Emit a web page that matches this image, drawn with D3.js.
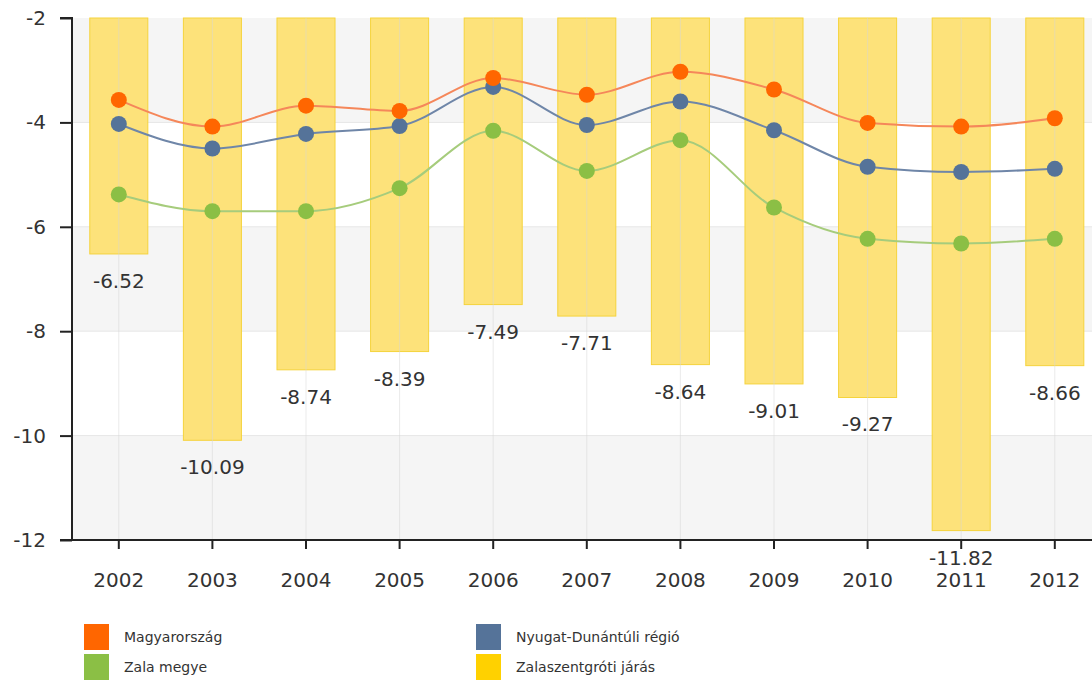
<!DOCTYPE html>
<html>
<head>
<meta charset="utf-8">
<script src="https://cdn.jsdelivr.net/npm/d3@7"></script>
<style>
  body { margin: 0; background: #fff; }
  svg { display: block; font-family: Verdana, "DejaVu Sans", sans-serif; }
</style>
</head>
<body>
<svg id="chart" width="1092" height="691"></svg>
<script>
const years = ["2002", "2003", "2004", "2005", "2006", "2007", "2008", "2009", "2010", "2011", "2012"];
const magyarorszag = [-3.57, -4.08, -3.68, -3.78, -3.15, -3.47, -3.03, -3.37, -4.01, -4.08, -3.92];
const nyugatDunantul = [-4.03, -4.5, -4.22, -4.07, -3.32, -4.05, -3.6, -4.15, -4.85, -4.95, -4.89];
const zalaMegye = [-5.38, -5.7, -5.7, -5.26, -4.16, -4.93, -4.34, -5.63, -6.23, -6.32, -6.23];
const zalaszentgroti = [-6.52, -10.09, -8.74, -8.39, -7.49, -7.71, -8.64, -9.01, -9.27, -11.82, -8.66];
const yTicks = [-2, -4, -6, -8, -10, -12];

const lineSeries = [
  { name: "Magyarország", values: magyarorszag, color: "#ff6600", line: "#f5875a" },
  { name: "Nyugat-Dunántúli régió", values: nyugatDunantul, color: "#557399", line: "#6f86a8" },
  { name: "Zala megye", values: zalaMegye, color: "#8bbf45", line: "#a6cc7c" }
];
const barColor = "#ffd100";

const svg = d3.select("#chart");
const plotLeft = 72, plotTop = 18, plotBottom = 540;

const x = d3.scaleBand().domain(years).range([plotLeft, plotLeft + 11 * 93.6]).paddingInner(0.38).paddingOuter(0.19);
const y = d3.scaleLinear().domain([-2, -12]).range([plotTop, plotBottom]);
const cx = d => x(d) + x.bandwidth() / 2;

// alternating background bands
const bands = d3.range(0, yTicks.length - 1).filter(i => i % 2 === 0);
svg.append("g")
  .selectAll("rect")
  .data(bands)
  .join("rect")
  .attr("x", plotLeft)
  .attr("width", 1092 - plotLeft)
  .attr("y", i => y(yTicks[i]))
  .attr("height", i => y(yTicks[i + 1]) - y(yTicks[i]))
  .attr("fill", "#f5f5f5");

// horizontal grid
svg.append("g")
  .selectAll("line")
  .data(yTicks.slice(1, -1))
  .join("line")
  .attr("x1", plotLeft).attr("x2", 1092)
  .attr("y1", d => y(d)).attr("y2", d => y(d))
  .attr("stroke", "#e6e6e6");

// bars
svg.append("g")
  .selectAll("rect")
  .data(zalaszentgroti)
  .join("rect")
  .attr("x", (d, i) => x(years[i]))
  .attr("width", x.bandwidth())
  .attr("y", y(-2))
  .attr("height", d => y(d) - y(-2))
  .attr("fill", "#fde27a")
  .attr("stroke", "#f5d33c")
  .attr("stroke-width", 1);

// vertical grid
svg.append("g")
  .selectAll("line")
  .data(years)
  .join("line")
  .attr("x1", cx).attr("x2", cx)
  .attr("y1", plotTop).attr("y2", plotBottom)
  .attr("stroke", "#d8d8d8")
  .attr("stroke-opacity", 0.5);

// bar labels
svg.append("g")
  .selectAll("text")
  .data(zalaszentgroti)
  .join("text")
  .attr("x", (d, i) => cx(years[i]))
  .attr("y", d => y(d) + 34)
  .attr("text-anchor", "middle")
  .attr("font-size", 20)
  .attr("fill", "#333")
  .text(d => d.toFixed(2));

// lines + markers
const line = d3.line()
  .x((d, i) => cx(years[i]))
  .y(d => y(d))
  .curve(d3.curveMonotoneX);

lineSeries.slice().reverse().forEach(s => {
  svg.append("path")
    .datum(s.values)
    .attr("d", line)
    .attr("fill", "none")
    .attr("stroke", s.line)
    .attr("stroke-width", 2);
  svg.append("g")
    .selectAll("circle")
    .data(s.values)
    .join("circle")
    .attr("cx", (d, i) => cx(years[i]))
    .attr("cy", d => y(d))
    .attr("r", 8)
    .attr("fill", s.color);
});

// axes
const yAxis = svg.append("g")
  .attr("transform", `translate(${plotLeft},0)`)
  .call(d3.axisLeft(y).tickValues(yTicks).tickFormat(d => String(d)).tickSize(12).tickPadding(14));
yAxis.select(".domain").attr("stroke", "#222").attr("stroke-width", 2).attr("d", `M-12,${plotTop}H0V${plotBottom}H-12`);
yAxis.selectAll(".tick line").attr("stroke", "#222").attr("stroke-width", 2);
yAxis.selectAll("text").attr("font-size", 20).attr("fill", "#333").attr("font-family", "Verdana, DejaVu Sans, sans-serif");

const xAxis = svg.append("g")
  .attr("transform", `translate(0,${plotBottom})`)
  .call(d3.axisBottom(x).tickSize(9).tickPadding(24));
xAxis.select(".domain").attr("stroke", "#222").attr("stroke-width", 2).attr("d", `M${plotLeft},0H1092`);
xAxis.selectAll(".tick line").attr("stroke", "#222").attr("stroke-width", 2);
xAxis.selectAll("text").attr("font-size", 20).attr("fill", "#333").attr("font-family", "Verdana, DejaVu Sans, sans-serif");

// legend
const legendItems = [
  { name: lineSeries[0].name, color: lineSeries[0].color },
  { name: lineSeries[1].name, color: lineSeries[1].color },
  { name: lineSeries[2].name, color: lineSeries[2].color },
  { name: "Zalaszentgróti járás", color: barColor }
];
const legend = svg.append("g")
  .selectAll("g")
  .data(legendItems)
  .join("g")
  .attr("transform", (d, i) => `translate(${i % 2 ? 476 : 84},${624 + Math.floor(i / 2) * 30})`);
legend.append("rect")
  .attr("width", 25).attr("height", 26)
  .attr("fill", d => d.color);
legend.append("text")
  .attr("x", 40).attr("y", 18)
  .attr("font-size", 14)
  .attr("fill", "#333")
  .text(d => d.name);
</script>
</body>
</html>
